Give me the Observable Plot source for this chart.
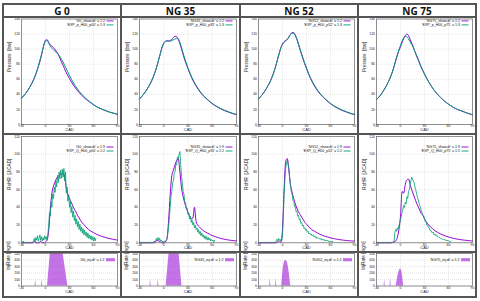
<!DOCTYPE html>
<html><head><meta charset="utf-8">
<script src="https://cdn.jsdelivr.net/npm/d3@7"></script>
<script src="https://cdn.jsdelivr.net/npm/@observablehq/plot@0.6"></script>
<style>
html,body{margin:0;padding:0;background:#fff;}
#root{position:relative;width:480px;height:301px;overflow:hidden;background:#fff;}
.cell{position:absolute;}
.ln{position:absolute;background:#555;}
.hdr{position:absolute;display:flex;align-items:center;justify-content:center;font:700 10px "Open Sans",sans-serif;color:#111;}
</style></head><body><div id="root"></div>
<script>
// ---------- DATA ----------
const panelTitles = ["G 0", "NG 35", "NG 52", "NG 75"];
const fileTags = ["G0", "NG35", "NG52", "NG75"];
const expTags = ["p00", "p35", "p52", "p75"];
const xTicks = [-30, 0, 30, 60, 90];
const pressureTicks = [0, 20, 40, 60, 80, 100, 120, 140];
const rohrTicks = [0, 20, 40, 60, 80, 100, 120];
const injTicks = [0, 100, 200, 300, 400, 500];

// Pressure [bar]
const pCad = [-30,-25,-20,-15,-10,-5,-2,0,2,4,6,8,10,12,14,16,18,20,22,25,30,35,40,45,50,55,60,65,70,75,80,85,90];
const pG0Sim   = [35,41,49,59,73,92,106,112,112.5,109,105.5,104,102,99.5,96.5,93,88,83,78.5,71,61,52,45,39,34,30,26,23,20.5,18.5,16.5,15,13.5];
const pG0Exp   = [35,41,49,59.5,74,93,105.5,110.5,111.5,108,104,101,99,97,95,93,90,86.5,83,76,65,55,47,40.5,35,30.5,26.5,23,20.5,18.5,16.5,15,13.5];
const pNG35Sim = [34,40,48,58,72,91,103,108,110.5,111,111,111.5,113,115.5,117,116.5,113,107,100,89,74,61,51,43,37,32,27.5,24,21,18.5,16.5,14.5,13];
const pNG35Exp = [34,40,48,58,72,91,102.5,107.5,110,111,110.5,110.5,111.5,112.5,113.5,114,113.5,109,102,91,75,62,52,44,37.5,32.5,28,24.5,21.5,19,17,15,13.5];
const pNG52Sim = [34,40,48,58,72,91,102,107,110,111.5,113,116,119.5,122,122,118.5,113,106,99,89,74,61,51,43,37,32,27.5,24,21,18.5,16.5,14.5,13];
const pNG52Exp = [34,40,48,58,72,91,101.5,106,109,111,113,116.5,119.5,121,121,118,113.5,107,100,90,75,62,52,44,37.5,32.5,28,24.5,21.5,19,17,15,13.5];
const pNG75Sim = [33,39,47,57,70,88,98,103,109,114,118,120,118,113,108,103,97,91,86,78,67,57,48.5,41.5,36,31,27,23.5,20.5,18.5,16.5,14.5,13];
const pNG75Exp = [33,39,47,57,70.5,89,99,105,111,115,117,116.5,113.5,110,106,102,97,92,87,79,67,57,48.5,41.5,36,31,27,23.5,20.5,18.5,16.5,14.5,13];

// RoHR [J/CAD]; simulation sampled every 2 CAD (-30..90), experiment every 1 CAD (-30..63)
const hrSimCad = d3.range(-30, 91, 2);
const hrExpCad = d3.range(-30, 64, 1);
const hrG0Sim = [0,0,0,0,0,0,0,0,2,0, 0,0,2,0,0,1,3,14,38,56, 64,69,73,75,77,78,78,74,62,55, 50,46,42,38,35,31,28,25,22.5,20.5, 18.5,16.5,15,13.5,12.5,11.5,10.5,9.5,8.8,8, 7.4,6.8,6.2,5.7,5.2,4.8,4.4,4,3.7,3.4, 3];
const hrNG35Sim = [0,0,0,0,0,0,0,0,0,0, 1,3,2,1,0,0,1,5,25,55, 76,82,88,93,95,80,62,52,45,39, 34,30,27,28,40,24,20,18,16,14.5, 13,12,11,10,9,8.2,7.5,6.8,6.2,5.6, 5.1,4.6,4.2,3.8,3.5,3.2,2.9,2.7,2.5,2.3, 2.1];
const hrNG52Sim = [0,0,0,0,0,0,0,0,0,0, 0,0,1,2,1,15,60,92,95,82, 65,57,50,44,39,35,32,29,26,23, 21,19,17,15.5,14,13,12,11,10,9.2, 8.5,7.8,7.2,6.6,6.1,5.6,5.2,4.8,4.4,4.1, 3.8,3.5,3.2,3,2.8,2.6,2.4,2.2,2.1,2, 1.9];
const hrNG75Sim = [0,0,0,0,0,0,0,0,0,0, 0.5,1,2,6,15,30,58,56,66,71, 72,66,60,55,50,45,41,37,33,31, 27,24,21.5,19.5,17.5,16,14.5,13,12,11, 10,9.2,8.5,7.8,7.2,6.6,6,5.5,5.1,4.7, 4.3,4,3.7,3.4,3.2,3,2.8,2.6,2.4,2.2, 2];
const hrG0Exp = [1,0,2,0,1,0,1,0,0,1, 0,0,1,0,1,2,5,1,6,3, 8,2,5,9,3,7,2,6,3,8, 4,7,3,10,20,34,30,46,40,55, 50,63,57,70,63,76,68,80,72,82, 73,83,74,84,70,80,56,63,47,54, 40,47,34,41,29,36,25,31,21,27, 18,24,15,21,13,18,11,16,9,14, 8,12,6,11,5,9,4,8,3,7, 2,6,2,5];
const hrNG35Exp = [1,0,1,0,0,1,0,0,1,0, 0,1,0,1,0,1,0,1,2,1, 3,5,2,6,3,5,2,3,1,2, 1,2,1,3,4,10,18,30,40,52, 58,68,70,79,80,89,88,97,95,100, 103,88,75,68,58,55,46,45,38,39, 32,34,27,30,23,26,20,23,17,20, 15,17,12,15,10,13,8,11,7,9, 5,8,4,7,3,6,3,5,2,4, 2,3,1,3];
const hrNG52Exp = [0,1,0,0,1,0,0,1,0,0, 1,0,0,1,0,1,0,0,1,0, 1,0,2,4,2,5,3,4,2,3, 8,30,55,72,84,90,93,88,84,72, 66,58,55,48,47,41,41,35,36,30, 31,26,27,22,23,19,20,16,17,14, 15,12,13,10,11,9,10,8,9,7, 8,6,7,5,6,5,5,4,5,3, 4,3,4,2,3,2,3,2,2,1, 2,1,2,1];
const hrNG75Exp = [0,1,0,0,1,0,0,1,0,0, 1,0,0,1,0,0,1,0,0,1, 0,1,2,12,15,13,17,15,19,22, 26,30,35,38,42,40,46,44,52,50, 58,60,66,70,74,72,70,68,63,60, 56,52,49,46,42,40,36,34,31,30, 27,24,23,20,20,17,17,14,14,12, 11,12,9,10,8,9,7,7,6,6, 5,5,4,4,3,4,3,3,2,3, 2,2,1,2];

// Injection rate
const injG0Cad   = [-30,-13,-12.3,-11.6,-5,-4.3,-3.6,2.5,6,22,28,90];
const injG0      = [0,0,95,0,0,100,0,0,500,500,0,0];
const injNG35Cad = [-30,-17,-16.3,-15.6,-7.5,-6.8,-6.1,3,6.5,19,22.5,90];
const injNG35    = [0,0,100,0,0,110,0,0,500,500,0,0];
const injNG52Cad = [-30,-16,-15.3,-14.6,-8.6,-7.9,-7.2,-1,0,1,2,3,4,5,6,7,8,9,10.3,90];
const injNG52    = [0,0,115,0,0,125,0,0,150,280,350,385,395,390,370,320,240,140,0,0];
const injNG75Cad = [-30,-20.5,-19.8,-19.1,-13.1,-12.4,-11.7,-5.5,-4,-3,-2,-1,0,1,2,3,4,90];
const injNG75    = [0,0,95,0,0,128,0,0,100,170,220,250,262,250,200,110,0,0];

// ---------- LAYOUT ----------
const FONT = '"Liberation Sans", Arial, sans-serif';
const SIM = "#9400d3", EXP = "#009e73";
const colX = [3, 121, 240, 358, 476];
const rowY = [4, 17, 134, 252, 297];
const rows = (xs, ys) => xs.map((x, i) => ({cad: x, v: ys[i]}));

const pSim = [pG0Sim, pNG35Sim, pNG52Sim, pNG75Sim];
const pExp = [pG0Exp, pNG35Exp, pNG52Exp, pNG75Exp];
const hSim = [hrG0Sim, hrNG35Sim, hrNG52Sim, hrNG75Sim];
const hExp = [hrG0Exp, hrNG35Exp, hrNG52Exp, hrNG75Exp];
const iCad = [injG0Cad, injNG35Cad, injNG52Cad, injNG75Cad];
const iVal = [injG0, injNG35, injNG52, injNG75];

function legendMark(entries, kind, offs) {
  return (index, scales, values, dims) => {
    const g = d3.create("svg:g").attr("font-size", 3.6).attr("font-family", FONT).attr("fill", "#111");
    const right = dims.width - dims.marginRight;
    entries.forEach((e, i) => {
      const y = dims.marginTop + offs[i];
      if (kind === "box") {
        g.append("rect").attr("x", right - 11).attr("y", y - 1.6).attr("width", 9).attr("height", 3.2)
          .attr("fill", e.color).attr("fill-opacity", 0.55);
        g.append("text").attr("x", right - 12.5).attr("y", y).attr("dy", "0.35em").attr("text-anchor", "end").text(e.label);
      } else {
        g.append("line").attr("x1", right - 10.5).attr("x2", right - 3.5).attr("y1", y).attr("y2", y)
          .attr("stroke", e.color).attr("stroke-width", 0.9);
        g.append("text").attr("x", right - 12).attr("y", y).attr("dy", "0.35em").attr("text-anchor", "end").text(e.label);
      }
    });
    return g.node();
  };
}

function makePlot(row, c) {
  const width = colX[c + 1] - colX[c];
  const height = rowY[row + 1] - rowY[row];
  let cfg, marks;
  if (row === 1) {
    cfg = {domain: [0, 140], ticks: pressureTicks, label: "Pressure  [bar]", mt: 1.5, mb: 10, dxl: -12, cad: 6.6};
    marks = [
      Plot.line(rows(pCad, pSim[c]), {x: "cad", y: "v", stroke: SIM, strokeWidth: 1, curve: "monotone-x"}),
      Plot.line(rows(pCad, pExp[c]), {x: "cad", y: "v", stroke: EXP, strokeWidth: 1, curve: "monotone-x"}),
      legendMark([{label: `'${fileTags[c]}_show.dt' u 1:2`, color: SIM}, {label: `'EXP_p_H00_${expTags[c]}' u 1:3`, color: EXP}], "line", [2.4, 6.4])
    ];
  } else if (row === 2) {
    cfg = {domain: [0, 120], ticks: rohrTicks, label: "RoHR  [J/CAD]", mt: 2, mb: 9.7, dxl: -12, cad: 6.6};
    marks = [
      Plot.line(rows(hrSimCad, hSim[c]), {x: "cad", y: "v", stroke: SIM, strokeWidth: 1, curve: "monotone-x"}),
      Plot.line(rows(hrExpCad, hExp[c]), {x: "cad", y: "v", stroke: EXP, strokeWidth: 0.8}),
      legendMark([{label: `'${fileTags[c]}_show.dt' u 1:9`, color: SIM}, {label: `'EXP_Q_H00_${expTags[c]}' u 1:2`, color: EXP}], "line", [11, 15])
    ];
  } else {
    cfg = {domain: [0, 500], ticks: injTicks, label: "InjRate [mg/s]", mt: 1, mb: 11.5, dxl: -12.5, cad: 7.2};
    marks = [
      Plot.areaY(rows(iCad[c], iVal[c]), {x: "cad", y: "v", fill: SIM, fillOpacity: 0.55}),
      legendMark([{label: `'${fileTags[c]}_inj.dt' u 1:2`, color: SIM}], "box", [6.7])
    ];
  }
  return Plot.plot({
    width, height,
    marginLeft: 18, marginRight: 4, marginTop: cfg.mt, marginBottom: cfg.mb,
    x: {domain: [-30, 90]},
    y: {domain: cfg.domain},
    style: {background: "transparent", fontFamily: FONT, color: "#222", overflow: "visible"},
    marks: [
      Plot.gridX(xTicks, {stroke: "#cfcfcf", strokeOpacity: 1, strokeWidth: 0.5, strokeDasharray: "1,1"}),
      Plot.gridY(cfg.ticks, {stroke: "#cfcfcf", strokeOpacity: 1, strokeWidth: 0.5, strokeDasharray: "1,1"}),
      ...marks,
      Plot.frame({stroke: "#666", strokeWidth: 0.7}),
      Plot.axisX(xTicks, {tickSize: 0, tickPadding: 0.4, fontSize: 3.4, tickFormat: d => String(d), label: null}),
      Plot.axisY(cfg.ticks, {tickSize: 0, tickPadding: 1.5, fontSize: 3.4, tickFormat: d => String(d), label: null}),
      Plot.text(["CAD"], {frameAnchor: "bottom", dy: cfg.cad, fontSize: 4, fill: "#222"}),
      Plot.text([cfg.label], {frameAnchor: "left", dx: cfg.dxl, rotate: -90, fontSize: 4.6, fill: "#222"})
    ]
  });
}

const root = document.getElementById("root");
for (let c = 0; c < 4; c++) {
  const h = document.createElement("div");
  h.className = "hdr";
  Object.assign(h.style, {left: colX[c] + "px", top: rowY[0] + "px", width: (colX[c + 1] - colX[c]) + "px", height: (rowY[1] - rowY[0]) + "px"});
  h.textContent = panelTitles[c];
  root.appendChild(h);
  for (let r = 1; r <= 3; r++) {
    const d = document.createElement("div");
    d.className = "cell";
    Object.assign(d.style, {left: colX[c] + "px", top: rowY[r] + "px"});
    const svg = makePlot(r, c);
    svg.style.display = "block";
    d.appendChild(svg);
    root.appendChild(d);
  }
}
// table lines
rowY.forEach(y => {
  const l = document.createElement("div"); l.className = "ln";
  Object.assign(l.style, {left: (colX[0] - 1) + "px", top: (y - 1) + "px", width: (colX[4] - colX[0] + 2) + "px", height: "2px"});
  root.appendChild(l);
});
colX.forEach(x => {
  const l = document.createElement("div"); l.className = "ln";
  Object.assign(l.style, {left: (x - 1) + "px", top: (rowY[0] - 1) + "px", width: "2px", height: (rowY[4] - rowY[0] + 2) + "px"});
  root.appendChild(l);
});
</script></body></html>
